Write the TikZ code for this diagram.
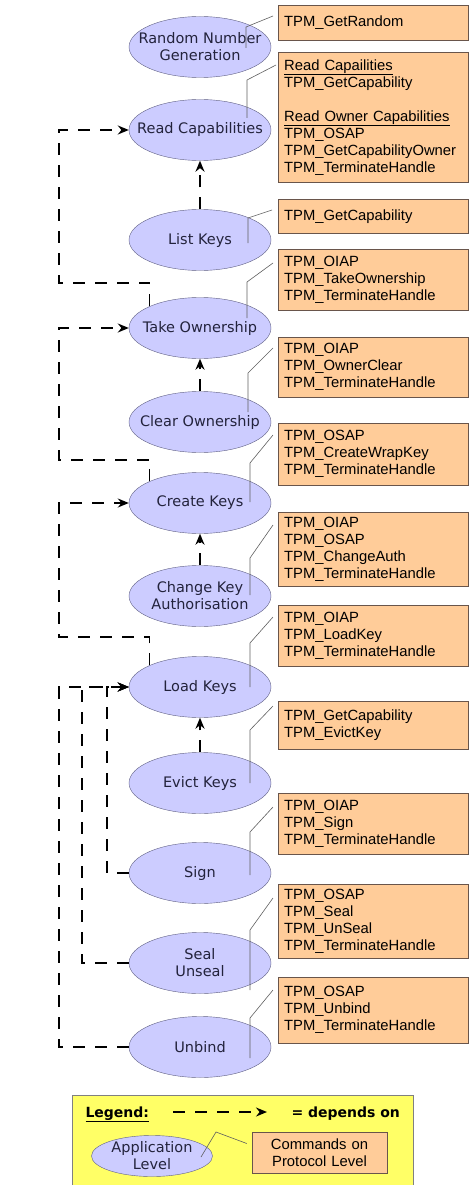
\documentclass[tikz,border=0pt]{standalone}
\usepackage{fontspec}
\usetikzlibrary{arrows.meta,calc,shapes.geometric}
\newfontfamily\appfont{DejaVu Sans}
\newfontfamily\cmdfont{Liberation Sans}
\definecolor{appfill}{RGB}{204,204,255}
\definecolor{appdraw}{RGB}{95,95,130}
\definecolor{apptext}{RGB}{35,35,60}
\definecolor{cmdfill}{RGB}{255,204,153}
\definecolor{cmddraw}{RGB}{105,85,75}
\definecolor{legfill}{RGB}{255,255,102}
\definecolor{linkgray}{RGB}{95,95,95}

\begin{document}
\begin{tikzpicture}[x=1pt, y=-1pt, >={Stealth[length=11pt,width=9pt]},
  app/.style={ellipse, draw=appdraw, fill=appfill, text=apptext, minimum width=142pt,
    minimum height=61pt, inner xsep=-20pt, inner ysep=-15pt, align=center,
    font=\appfont\fontsize{14.5}{17}\selectfont},
  cmd/.style={draw=cmddraw, fill=cmdfill, anchor=north west, text width=178pt, inner xsep=6pt,
    inner ysep=0pt, align=left, font=\cmdfont\fontsize{14.8}{17}\selectfont},
  link/.style={draw=linkgray, line width=0.6pt},
  dep/.style={->, line width=1.6pt, dash pattern=on 12pt off 10pt}]
\clip (0,0) rectangle (474,1185);

\node[app] (rng) at (200,47) {Random Number\\Generation};
\node[app] (readcap) at (200,130) {Read Capabilities};
\node[app] (listkeys) at (200,240) {List Keys};
\node[app] (takeown) at (200,328) {Take Ownership};
\node[app] (clearown) at (200,422) {Clear Ownership};
\node[app] (createkeys) at (200,503) {Create Keys};
\node[app] (changekey) at (200,596) {Change Key\\Authorisation};
\node[app] (loadkeys) at (200,687) {Load Keys};
\node[app] (evictkeys) at (200,783) {Evict Keys};
\node[app] (sign) at (200,873) {Sign};
\node[app] (seal) at (200,963) {Seal\\Unseal};
\node[app] (unbind) at (200,1047) {Unbind};

\node[cmd, minimum height=35pt] (rngcmd) at (278,5) {TPM\_GetRandom};
\node[cmd, minimum height=130pt] (readcapcmd) at (278,52) {\underline{Read Capailities}\\TPM\_GetCapability\\[17pt]\underline{Read Owner Capabilities}\\TPM\_OSAP\\TPM\_GetCapabilityOwner\\TPM\_TerminateHandle};
\node[cmd, minimum height=34pt] (listkeyscmd) at (278,199) {TPM\_GetCapability};
\node[cmd, minimum height=61pt] (takeowncmd) at (278,249) {TPM\_OIAP\\TPM\_TakeOwnership\\TPM\_TerminateHandle};
\node[cmd, minimum height=60pt] (clearowncmd) at (278,337) {TPM\_OIAP\\TPM\_OwnerClear\\TPM\_TerminateHandle};
\node[cmd, minimum height=62pt] (createkeyscmd) at (278,423) {TPM\_OSAP\\TPM\_CreateWrapKey\\TPM\_TerminateHandle};
\node[cmd, minimum height=74pt] (changekeycmd) at (278,512) {TPM\_OIAP\\TPM\_OSAP\\TPM\_ChangeAuth\\TPM\_TerminateHandle};
\node[cmd, minimum height=61pt] (loadkeyscmd) at (278,605) {TPM\_OIAP\\TPM\_LoadKey\\TPM\_TerminateHandle};
\node[cmd, minimum height=48pt] (evictkeyscmd) at (278,701) {TPM\_GetCapability\\TPM\_EvictKey};
\node[cmd, minimum height=61pt] (signcmd) at (278,793) {TPM\_OIAP\\TPM\_Sign\\TPM\_TerminateHandle};
\node[cmd, minimum height=74pt] (sealcmd) at (278,884) {TPM\_OSAP\\TPM\_Seal\\TPM\_UnSeal\\TPM\_TerminateHandle};
\node[cmd, minimum height=66pt] (unbindcmd) at (278,977) {TPM\_OSAP\\TPM\_Unbind\\TPM\_TerminateHandle};

\draw[link] ([shift={(-5,11)}]rngcmd.north west) -- (246,27) -- ($(rng)+(46,1)$);
\draw[link] ([shift={(-2,13)}]readcapcmd.north west) -- (247,80) -- ($(readcap)+(47,-12)$);
\draw[link] ([shift={(-6,11)}]listkeyscmd.north west) -- (248,218) -- ($(listkeys)+(48,3)$);
\draw[link] ([shift={(-5,14)}]takeowncmd.north west) -- (247,282) -- ($(takeown)+(47,-10)$);
\draw[link] ([shift={(-5,11)}]clearowncmd.north west) -- (248,373) -- ($(clearown)+(48,-10)$);
\draw[link] ([shift={(-5,12)}]createkeyscmd.north west) -- (250,463) -- ($(createkeys)+(50,-1)$);
\draw[link] ([shift={(-5,13)}]changekeycmd.north west) -- (250,558) -- ($(changekey)+(50,-1)$);
\draw[link] ([shift={(-5,12)}]loadkeyscmd.north west) -- (250,643) -- ($(loadkeys)+(50,0)$);
\draw[link] ([shift={(-5,5)}]evictkeyscmd.north west) -- (250,730) -- ($(evictkeys)+(50,0)$);
\draw[link] ([shift={(-5,14)}]signcmd.north west) -- (250,832) -- ($(sign)+(50,2)$);
\draw[link] ([shift={(-5,14)}]sealcmd.north west) -- (250,930) -- ($(seal)+(50,27)$);
\draw[link] ([shift={(-5,13)}]unbindcmd.north west) -- (250,1018) -- ($(unbind)+(50,11)$);

\draw[dep] (listkeys.north) -- (readcap.south);
\draw[dep] (clearown.north) -- (takeown.south);
\draw[dep] (changekey.north) -- (createkeys.south);
\draw[dep] (evictkeys.north) -- (loadkeys.south);
\draw[dep] (takeown.north west) |- (59,283) |- (readcap.west);
\draw[dep] (createkeys.north west) |- (59,460) |- (takeown.west);
\draw[dep] (loadkeys.north west) |- (59,637) |- (createkeys.west);
\draw[dep] (sign.west) -| (107,0 |- loadkeys.west) -- (loadkeys.west);
\draw[dep] (seal.west) -| (82,0 |- loadkeys.west) -- (loadkeys.west);
\draw[dep] (unbind.west) -| (59,0 |- loadkeys.west) -- (loadkeys.west);

\filldraw[fill=legfill, draw=gray] (72,1095) rectangle (413,1200);
\node[anchor=base west, font=\appfont\bfseries\fontsize{14}{17}\selectfont] (legtitle) at (82,1117) {\underline{Legend:}};
\coordinate (legfrom) at (173,1112);
\coordinate (legto) at (267,1112);
\draw[dep] (legfrom) -- (legto);
\node[anchor=base west, font=\appfont\bfseries\fontsize{14}{17}\selectfont] (legdep) at (288,1117) {= depends on};
\node[app, minimum width=121pt, minimum height=41pt] (legapp) at (152,1156) {Application\\Level};
\node[cmd, anchor=center, text width=123pt, align=center, minimum height=41pt] (legcmd) at (319.5,1152.5) {Commands on\\Protocol Level};
\draw[link] ($(legapp)+(49,1)$) -- (216,1132) -- ([shift={(-5,-9)}]legcmd.west);
\end{tikzpicture}
\end{document}
